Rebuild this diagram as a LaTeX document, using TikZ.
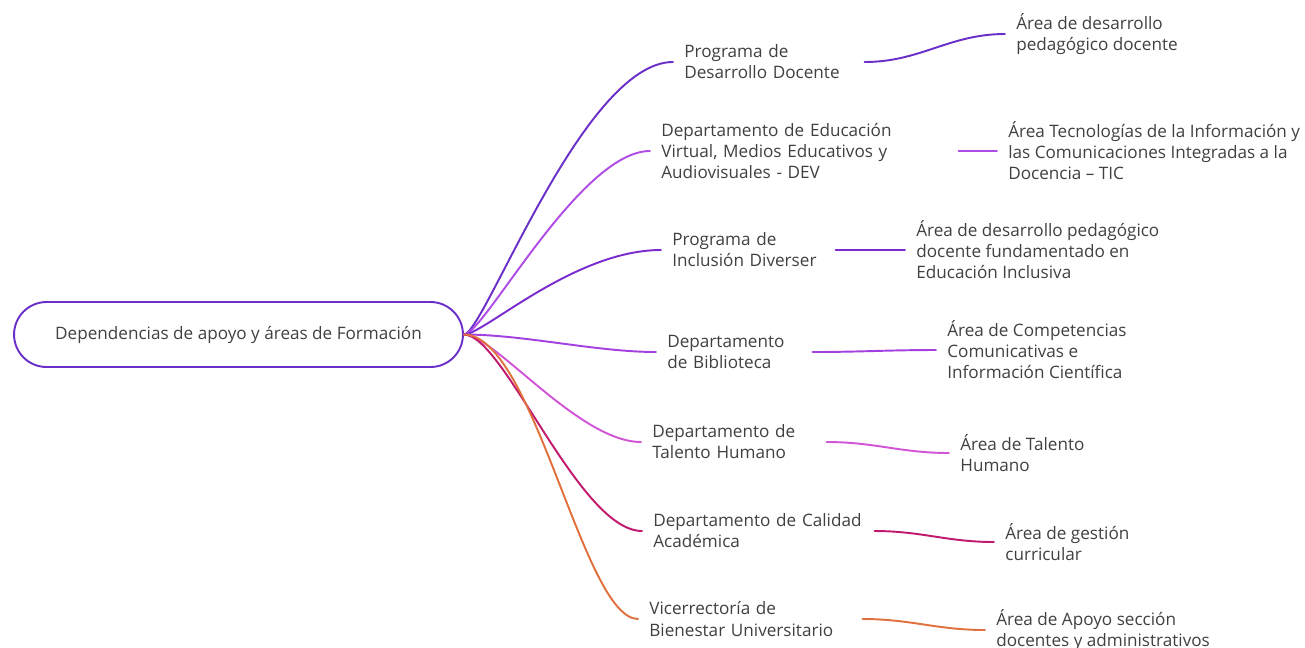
\documentclass[tikz,border=0pt]{standalone}
\usepackage{fontspec}
\setmainfont{Open Sans}

\definecolor{texto}{HTML}{404040}
\definecolor{morado}{HTML}{6B2FC9}
\definecolor{violeta}{HTML}{B04CE6}
\definecolor{purpura}{HTML}{7A2BD0}
\definecolor{lila}{HTML}{A43FE0}
\definecolor{orquidea}{HTML}{D255D8}
\definecolor{carmin}{HTML}{C0186C}
\definecolor{naranja}{HTML}{E0703E}

\tikzset{
  dep/.style={anchor=west, align=left, inner xsep=0.22cm, inner ysep=0pt, text=texto, font=\fontsize{9.75}{12}\selectfont},
  area/.style={dep},
  rama/.style={line width=1.1pt, line cap=round},
}

\begin{document}
\begin{tikzpicture}[x=0.02cm, y=-0.02cm]
\useasboundingbox (0,0) rectangle (1305,647);

\node[draw=morado, line width=1.1pt, rounded corners=0.65cm, minimum width=8.98cm, minimum height=1.3cm, text=texto, font=\fontsize{9.75}{12}\selectfont] (raiz) at (238.5,334.5) {Dependencias de apoyo y áreas de Formación};

% dependencias
\node[dep, text width=3.38cm] (pdd) at (673,62) {Programa de\\Desarrollo Docente};
\node[dep, text width=5.72cm] (dev) at (650,151) {Departamento de Educación\\Virtual, Medios Educativos y\\Audiovisuales - DEV};
\node[dep, text width=3.04cm] (pid) at (661,250) {Programa de\\Inclusión Diverser};
\node[dep, text width=2.68cm] (bib) at (656,352) {Departamento\\de Biblioteca};
\node[dep, text width=3.26cm] (th) at (641,442) {Departamento de\\Talento Humano};
\node[dep, text width=4.2cm] (cal) at (642,531) {Departamento de Calidad\\Académica};
\node[dep, text width=4.04cm] (vbu) at (638,619) {Vicerrectoría de\\Bienestar Universitario};

% areas de formacion
\node[area] (a1) at (1005,34) {Área de desarrollo\\pedagógico docente};
\node[area] (a2) at (997,151) {Área Tecnologías de la Información y\\las Comunicaciones Integradas a la\\Docencia – TIC};
\node[area] (a3) at (905,250) {Área de desarrollo pedagógico\\docente fundamentado en\\Educación Inclusiva};
\node[area] (a4) at (936,350) {Área de Competencias\\Comunicativas e\\Información Científica};
\node[area] (a5) at (949,453) {Área de Talento\\Humano};
\node[area] (a6) at (994,542) {Área de gestión\\curricular};
\node[area] (a7) at (985,630) {Área de Apoyo sección\\docentes y administrativos};

% ramas
\draw[rama, morado] (raiz.east) .. controls +(20,0) and +(-90,0) .. (pdd.west);
\draw[rama, violeta] (raiz.east) .. controls +(20,0) and +(-70,0) .. (dev.west);
\draw[rama, purpura] (raiz.east) .. controls +(20,0) and +(-87,0) .. (pid.west);
\draw[rama, lila] (raiz.east) .. controls +(60,0) and +(-60,0) .. (bib.west);
\draw[rama, orquidea] (raiz.east) .. controls +(30,0) and +(-62,0) .. (th.west);
\draw[rama, carmin] (raiz.east) .. controls +(40,0) and +(-63,0) .. (cal.west);
\draw[rama, naranja] (raiz.east) .. controls +(70,0) and +(-55,0) .. (vbu.west);

\draw[rama, morado] (pdd.east) to[out=0, in=180] (a1.west);
\draw[rama, violeta] (dev.east) -- (a2.west);
\draw[rama, purpura] (pid.east) -- (a3.west);
\draw[rama, lila] (bib.east) to[out=0, in=180] (a4.west);
\draw[rama, orquidea] (th.east) to[out=0, in=180] (a5.west);
\draw[rama, carmin] (cal.east) to[out=0, in=180] (a6.west);
\draw[rama, naranja] (vbu.east) to[out=0, in=180] (a7.west);
\end{tikzpicture}
\end{document}
